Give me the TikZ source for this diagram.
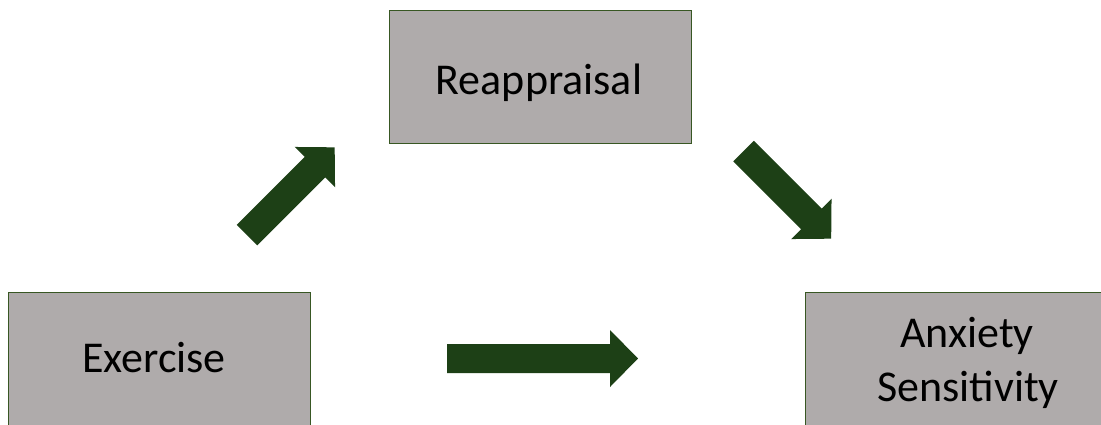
\documentclass[tikz,border=0pt]{standalone}
\usepackage{fontspec}
\setmainfont{Carlito}
\definecolor{boxfill}{RGB}{175,171,171}
\definecolor{boxline}{RGB}{56,87,35}
\definecolor{arrowgreen}{RGB}{29,64,22}
\tikzset{
  box/.style={draw=boxline, line width=1pt, fill=boxfill, rectangle, inner sep=0pt},
  lbl/.style={font=\fontsize{44}{52}\selectfont, text=black, inner sep=0pt, anchor=base},
  blockarrow/.pic={\fill[arrowgreen] (0,-14.5) -- (#1-28,-14.5) -- (#1-28,-28.5) -- (#1,0) -- (#1-28,28.5) -- (#1-28,14.5) -- (0,14.5) -- cycle;}
}
\begin{document}
\begin{tikzpicture}[x=1pt,y=-1pt]
\useasboundingbox (0,0) rectangle (1101,424);
\clip (0,0) rectangle (1101,424);
\fill[white] (0,0) rectangle (1101,424);
% boxes
\node[box, minimum width=302pt, minimum height=133pt] (reap) at (540,76.5) {};
\node[box, minimum width=302pt, minimum height=133pt] (exer) at (159,358.5) {};
\node[box, minimum width=302pt, minimum height=133pt] (anx) at (956,358.5) {};
% labels
\node[lbl] (reapT) at (539,94) {Reappraisal};
\node[lbl] (exerT) at (154,372) {Exercise};
\node[lbl] (anxT1) at (967,347) {Anxiety};
\node[lbl] (anxT2) at (968,401) {Sensitivity};
% block arrows
\coordinate (a1) at (247,235);
\coordinate (a2) at (743.5,151);
\coordinate (a3) at (447,358.5);
\pic[rotate=45] at (a1) {blockarrow=124};
\pic[rotate=-45] at (a2) {blockarrow=124};
\pic at (a3) {blockarrow=191};
\end{tikzpicture}
\end{document}
